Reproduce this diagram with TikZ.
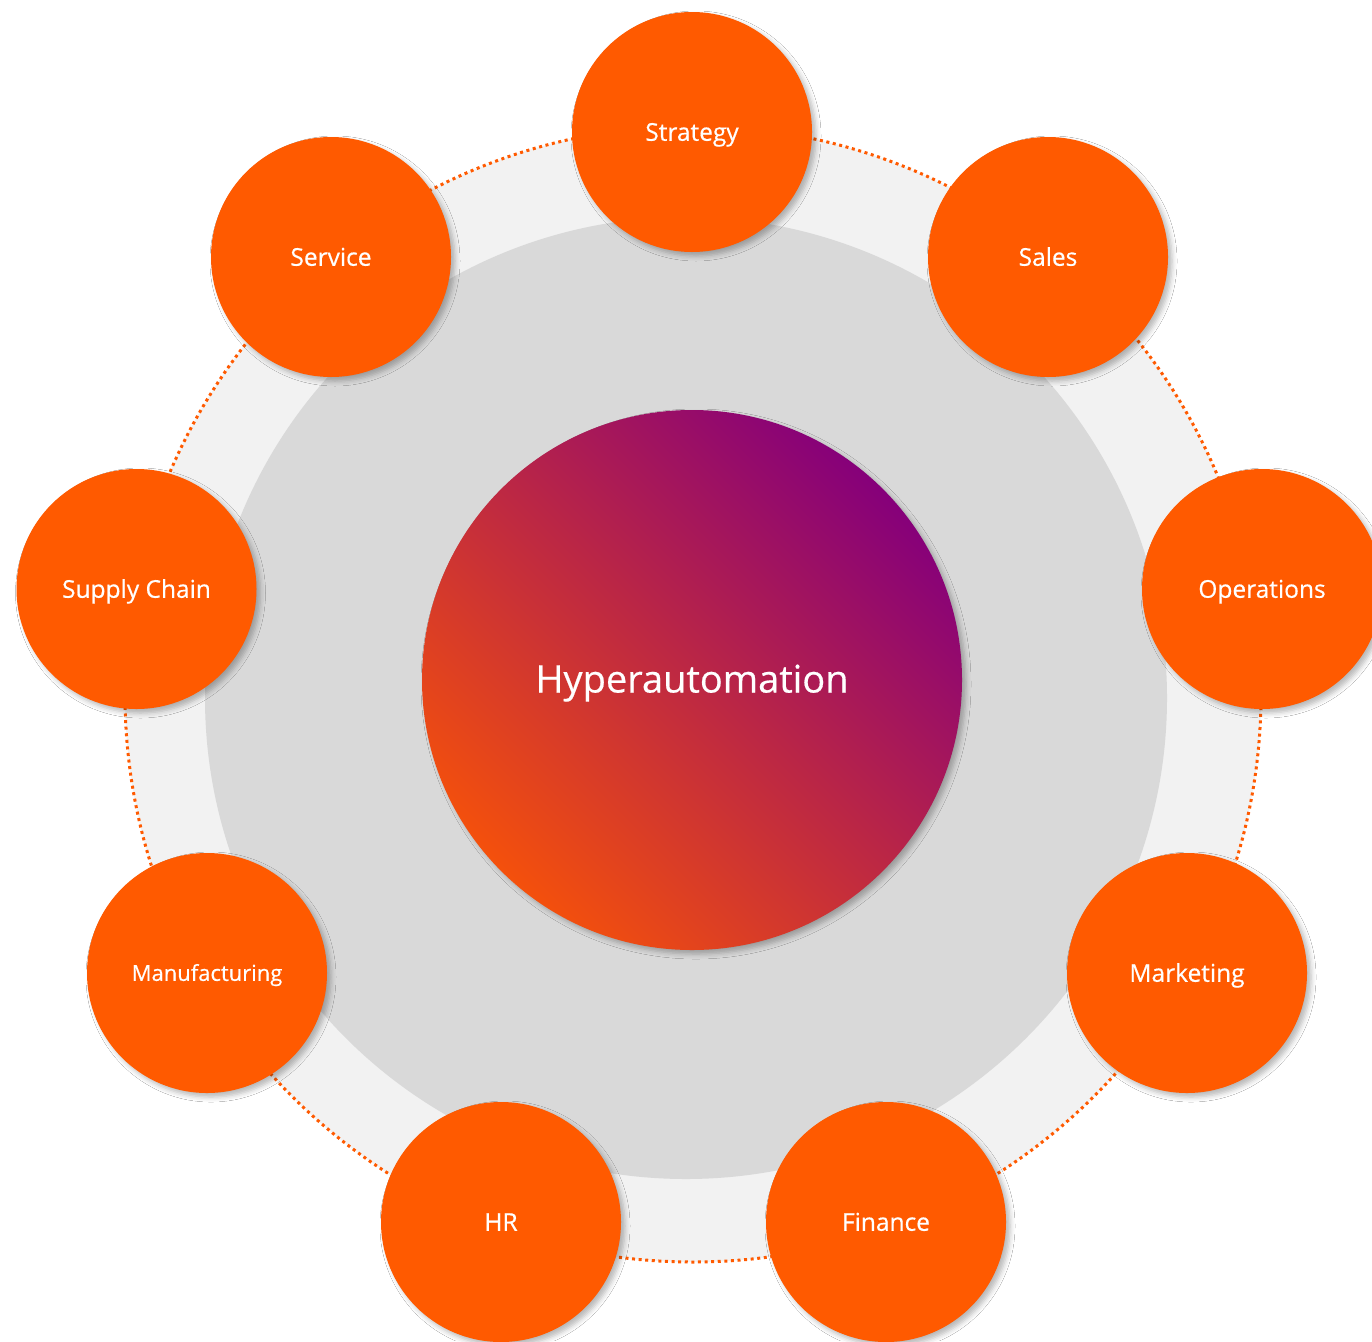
\documentclass[tikz,border=0pt]{standalone}
\usepackage{fontspec}
\setmainfont{Open Sans}
\newfontfamily\labelfont{Open Sans}[FakeBold=0.5]
\usetikzlibrary{shadows.blur}
\definecolor{orng}{HTML}{FF5A00}
\definecolor{ringlight}{HTML}{F2F2F2}
\definecolor{ringgray}{HTML}{D9D9D9}
\definecolor{gradorange}{HTML}{F4500C}
\definecolor{gradpurple}{HTML}{86007A}
\tikzset{
  softshadow/.style={blur shadow={shadow xshift=4pt, shadow yshift=-4pt, shadow blur radius=5pt, shadow opacity=28}},
  petal/.style={circle, fill=orng, minimum size=240pt, inner sep=0pt, text=white,
    font=\labelfont\fontsize{24.5}{28}\selectfont, text height=17.5pt, text depth=0pt, softshadow},
  smallpetal/.style={petal, font=\labelfont\fontsize{22}{26}\selectfont, text height=15.7pt},
  hub/.style={circle, minimum size=540pt, inner sep=0pt, text=white,
    font=\labelfont\fontsize{38}{44}\selectfont, text height=25pt, text depth=0pt,
    bottom color=gradorange, top color=gradpurple, shading angle=-45, softshadow},
  orbit/.style={draw=orng, line width=3pt, dash pattern=on 3pt off 3.6pt},
}
\begin{document}
\begin{tikzpicture}[x=1pt,y=-1pt]
\useasboundingbox (0,0) rectangle (1372,1341);
\fill[white] (0,0) rectangle (1372,1341);
% background rings
\fill[ringlight] (693,694) circle (568);
\draw[orbit] (693,694) circle (568);
\fill[ringgray] (686,698) circle (481);
% hub
\node[hub] (hub) at (692,680) {Hyperautomation};
% petals
\node[petal] (strategy) at (692,132) {Strategy};
\node[petal] (sales) at (1048,257) {Sales};
\node[petal] (operations) at (1262,589) {Operations};
\node[petal] (marketing) at (1187,973) {Marketing};
\node[petal] (finance) at (886,1222) {Finance};
\node[petal] (hr) at (501,1222) {HR};
\node[smallpetal] (manufacturing) at (207,973) {Manufacturing};
\node[petal] (supply) at (136.5,589) {Supply Chain};
\node[petal] (service) at (331,257) {Service};
\end{tikzpicture}
\end{document}
